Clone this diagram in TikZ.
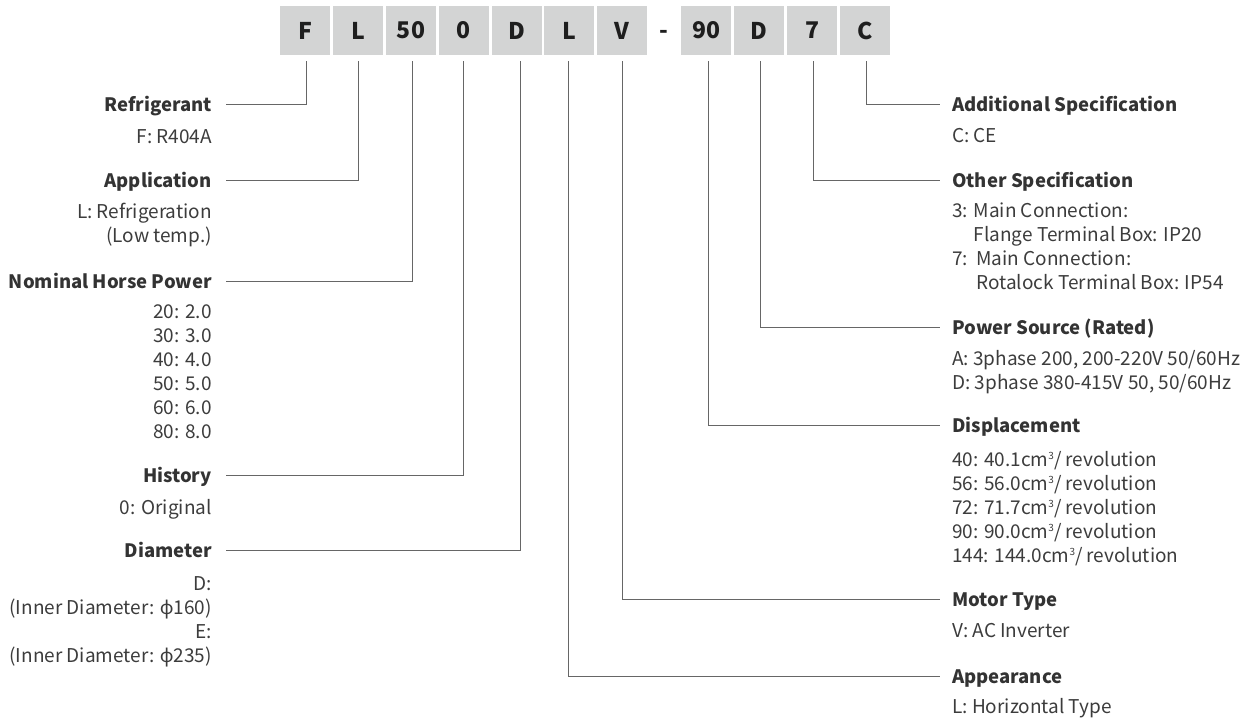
\documentclass[tikz,border=0pt]{standalone}
\usepackage{fontspec}
\setmainfont{Noto Sans CJK JP}
\newfontfamily\phifont{Noto Sans}
\newcommand\cubesup{\raisebox{6.5pt}{\fontsize{10}{10}\selectfont 3}}
\definecolor{boxgray}{HTML}{D3D4D4}
\definecolor{boxtext}{HTML}{1E1E1E}
\definecolor{headc}{HTML}{333333}
\definecolor{bodyc}{HTML}{3C3C3C}
\definecolor{linec}{HTML}{666666}
\tikzset{
  codebox/.style={fill=boxgray, minimum width=50pt, minimum height=49pt, inner sep=0pt,
    font=\fontsize{23}{26}\selectfont\bfseries, text=boxtext},
  dashlbl/.style={inner sep=0pt, anchor=base, font=\fontsize{23}{26}\selectfont\bfseries, text=boxtext},
  head/.style={inner sep=0pt, font=\fontsize{18.5}{24}\selectfont\bfseries, text=headc},
  body/.style={inner sep=0pt, font=\fontsize{19}{24}\selectfont, text=bodyc},
  lbody/.style={body, anchor=north east, align=right},
  rbody/.style={body, anchor=north west, align=left},
  lhead/.style={head, anchor=base east},
  rhead/.style={head, anchor=base west},
  conn/.style={draw=linec, line width=1pt},
}
\begin{document}
\begin{tikzpicture}[x=1pt,y=-1pt]
\useasboundingbox (0,0) rectangle (1252,720);
% code boxes
\node[codebox] (bF)  at (305,30.5)   {F};
\node[codebox] (bL)  at (358,30.5)   {L};
\node[codebox] (b50) at (411,30.5)   {50};
\node[codebox] (b0)  at (463.5,30.5) {0};
\node[codebox] (bD)  at (516.5,30.5) {D};
\node[codebox] (bL2) at (569,30.5)   {L};
\node[codebox] (bV)  at (622,30.5)   {V};
\node[dashlbl] (bDash) at (664,38) {-};
\node[codebox] (b90) at (706,30.5)   {90};
\node[codebox] (bD2) at (759,30.5)   {D};
\node[codebox] (b7)  at (812,30.5)   {7};
\node[codebox] (bC)  at (865,30.5)   {C};

% left labels
\node[lhead] (hRef) at (212,111) {Refrigerant};
\node[lbody] (tRef) at (212,126.2) {\strut F: R404A};
\node[lhead] (hApp) at (212,187.7) {Application};
\node[lbody] (tApp) at (212,201.7) {\strut L: Refrigeration\\\strut (Low temp.)};
\node[lhead] (hNom) at (212,288.7) {Nominal Horse Power};
\node[lbody] (tNom) at (212,301.2) {\strut 20: 2.0\\\strut 30: 3.0\\\strut 40: 4.0\\\strut 50: 5.0\\\strut 60: 6.0\\\strut 80: 8.0};
\node[lhead] (hHis) at (212,482) {History};
\node[lbody] (tHis) at (212,497.2) {\strut 0: Original};
\node[lhead] (hDia) at (212,557.7) {Diameter};
\node[lbody] (tDia) at (212,573.2) {\strut D:\\\strut (Inner Diameter: {\phifont ϕ}160)\\\strut E:\\\strut (Inner Diameter: {\phifont ϕ}235)};

% right labels
\node[rhead] (hAdd) at (952,111.3) {Additional Specification};
\node[rbody] (tAdd) at (952,125.2) {\strut C: CE};
\node[rhead] (hOth) at (952,187) {Other Specification};
\node[rbody] (tOth) at (952,200.7) {\strut 3: Main Connection:\\\strut \phantom{3: }Flange Terminal Box: IP20\\\strut 7:\ \ Main Connection:\\\strut \phantom{7:\ \ }Rotalock Terminal Box: IP54};
\node[rhead] (hPow) at (952,334.3) {Power Source (Rated)};
\node[rbody] (tPow) at (952,348.7) {\strut A: 3phase 200, 200-220V 50/60Hz\\\strut D: 3phase 380-415V 50, 50/60Hz};
\node[rhead] (hDis) at (952,432.7) {Displacement};
\node[rbody] (tDis) at (952,449.2) {\strut 40: 40.1cm\cubesup/ revolution\\\strut 56: 56.0cm\cubesup/ revolution\\\strut 72: 71.7cm\cubesup/ revolution\\\strut 90: 90.0cm\cubesup/ revolution\\\strut 144: 144.0cm\cubesup/ revolution};
\node[rhead] (hMot) at (952,606.7) {Motor Type};
\node[rbody] (tMot) at (952,620.2) {\strut V: AC Inverter};
\node[rhead] (hApr) at (952,683.7) {Appearance};
\node[rbody] (tApr) at (952,696.2) {\strut L: Horizontal Type};

% connector ends
\coordinate (cRef) at (226,104);
\coordinate (cApp) at (226,180.7);
\coordinate (cNom) at (226,281.7);
\coordinate (cHis) at (226,475);
\coordinate (cDia) at (226,550.7);
\coordinate (cAdd) at (940,104.3);
\coordinate (cOth) at (940,180);
\coordinate (cPow) at (940,327.3);
\coordinate (cDis) at (940,425.5);
\coordinate (cMot) at (940,599.7);
\coordinate (cApr) at (940,676.7);

% connectors
\draw[conn] ([xshift=1pt,yshift=-6pt]bF.south) |- (cRef);
\draw[conn] ([xshift=0pt,yshift=-6pt]bL.south) |- (cApp);
\draw[conn] ([xshift=1pt,yshift=-6pt]b50.south) |- (cNom);
\draw[conn] ([xshift=-0.5pt,yshift=-6pt]b0.south) |- (cHis);
\draw[conn] ([xshift=3.5pt,yshift=-6pt]bD.south) |- (cDia);
\draw[conn] ([xshift=-0.3pt,yshift=-6pt]bL2.south) |- (cApr);
\draw[conn] ([xshift=0pt,yshift=-6pt]bV.south) |- (cMot);
\draw[conn] ([xshift=2pt,yshift=-6pt]b90.south) |- (cDis);
\draw[conn] ([xshift=1.7pt,yshift=-6pt]bD2.south) |- (cPow);
\draw[conn] ([xshift=1.3pt,yshift=-6pt]b7.south) |- (cOth);
\draw[conn] ([xshift=1.7pt,yshift=-6pt]bC.south) |- (cAdd);
\end{tikzpicture}
\end{document}
